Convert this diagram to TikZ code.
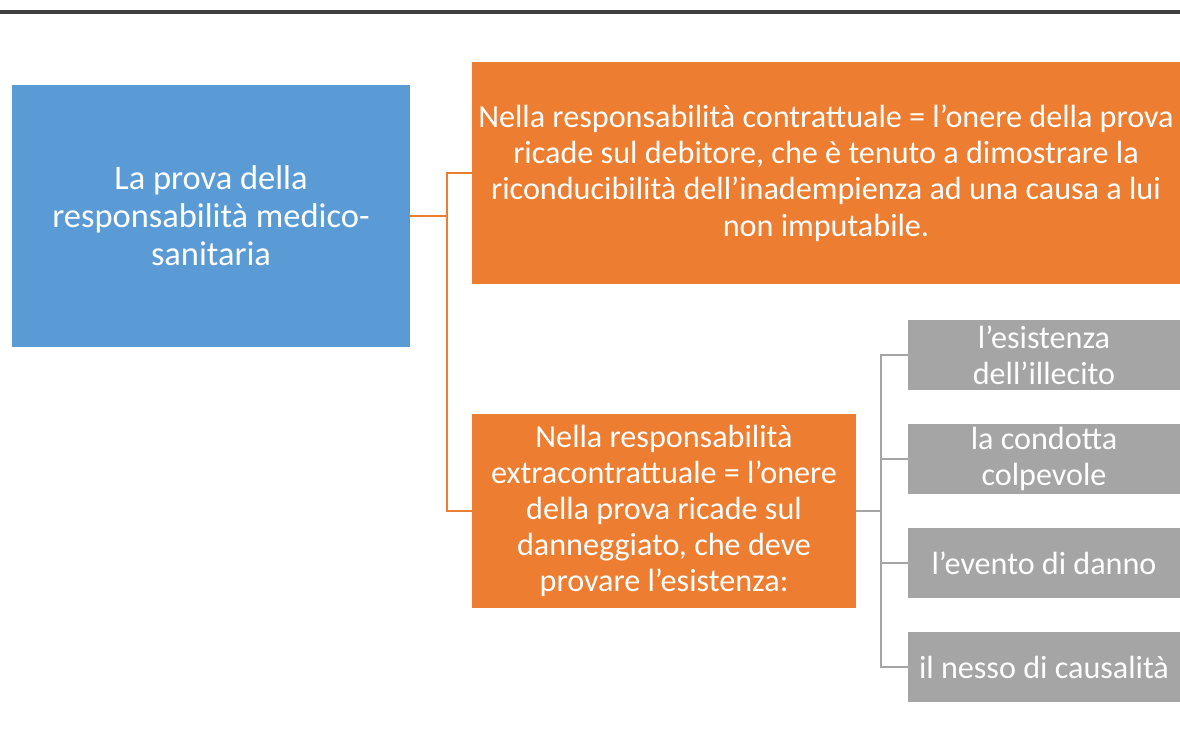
\documentclass[tikz,border=0pt]{standalone}
\usepackage{fontspec}
\setmainfont{Carlito}
\usepackage{tikz}
\definecolor{bluebox}{HTML}{5B9BD5}
\definecolor{orangebox}{HTML}{ED7D31}
\definecolor{greybox}{HTML}{A5A5A5}
\definecolor{topline}{HTML}{404040}

\begin{document}
\begin{tikzpicture}[x=0.02cm,y=-0.02cm]
\tikzstyle{every node}+=[inner sep=0pt, text=white, align=center]
\tikzstyle{mainbox}=[fill=bluebox, minimum width=7.96cm, minimum height=5.24cm, font=\fontsize{19.6}{21.6}\selectfont]
\tikzstyle{casebox}=[fill=orangebox, font=\fontsize{18.3}{20.6}\selectfont]
\tikzstyle{itembox}=[fill=greybox, minimum width=5.44cm, minimum height=1.4cm, font=\fontsize{18.3}{20.6}\selectfont]
\tikzstyle{orangelink}=[draw=orangebox, line width=1.2pt]
\tikzstyle{greylink}=[draw=greybox, line width=1.2pt]
\useasboundingbox (0,0) rectangle (1180,751);
\draw [topline, line width=2pt] (0,12) -- (1180,12);
% left box
\node [mainbox] (prova) at (211,216) {La prova della\\responsabilità medico-\\sanitaria};
% two cases
\node [casebox, minimum width=14.16cm, minimum height=4.44cm] (contr) at (826,173)
  {Nella responsabilità contrattuale = l’onere della prova\\ricade sul debitore, che è tenuto a dimostrare la\\riconducibilità dell’inadempienza ad una causa a lui\\non imputabile.};
\node [casebox, minimum width=7.68cm, minimum height=3.88cm] (extra) at (664,511)
  {Nella responsabilità\\extracontrattuale = l’onere\\della prova ricade sul\\danneggiato, che deve\\provare l’esistenza:};
% what must be proved
\node [itembox] (illecito) at (1044,355) {l’esistenza\\dell’illecito};
\node [itembox] (condotta) at (1044,459) {la condotta\\colpevole};
\node [itembox] (evento) at (1044,563) {l’evento di danno};
\node [itembox] (nesso) at (1044,667) {il nesso di causalità};
% connectors
\coordinate (split) at (447,216);
\draw [orangelink] (prova.east) -- (split);
\draw [orangelink] (split) |- (contr.west);
\draw [orangelink] (split) |- (extra.west);
\coordinate (branch) at (881,511);
\draw [greylink] (extra.east) -- (branch);
\foreach \n in {illecito,condotta,evento,nesso}
  \draw [greylink] (branch) |- (\n.west);
\end{tikzpicture}
\end{document}
